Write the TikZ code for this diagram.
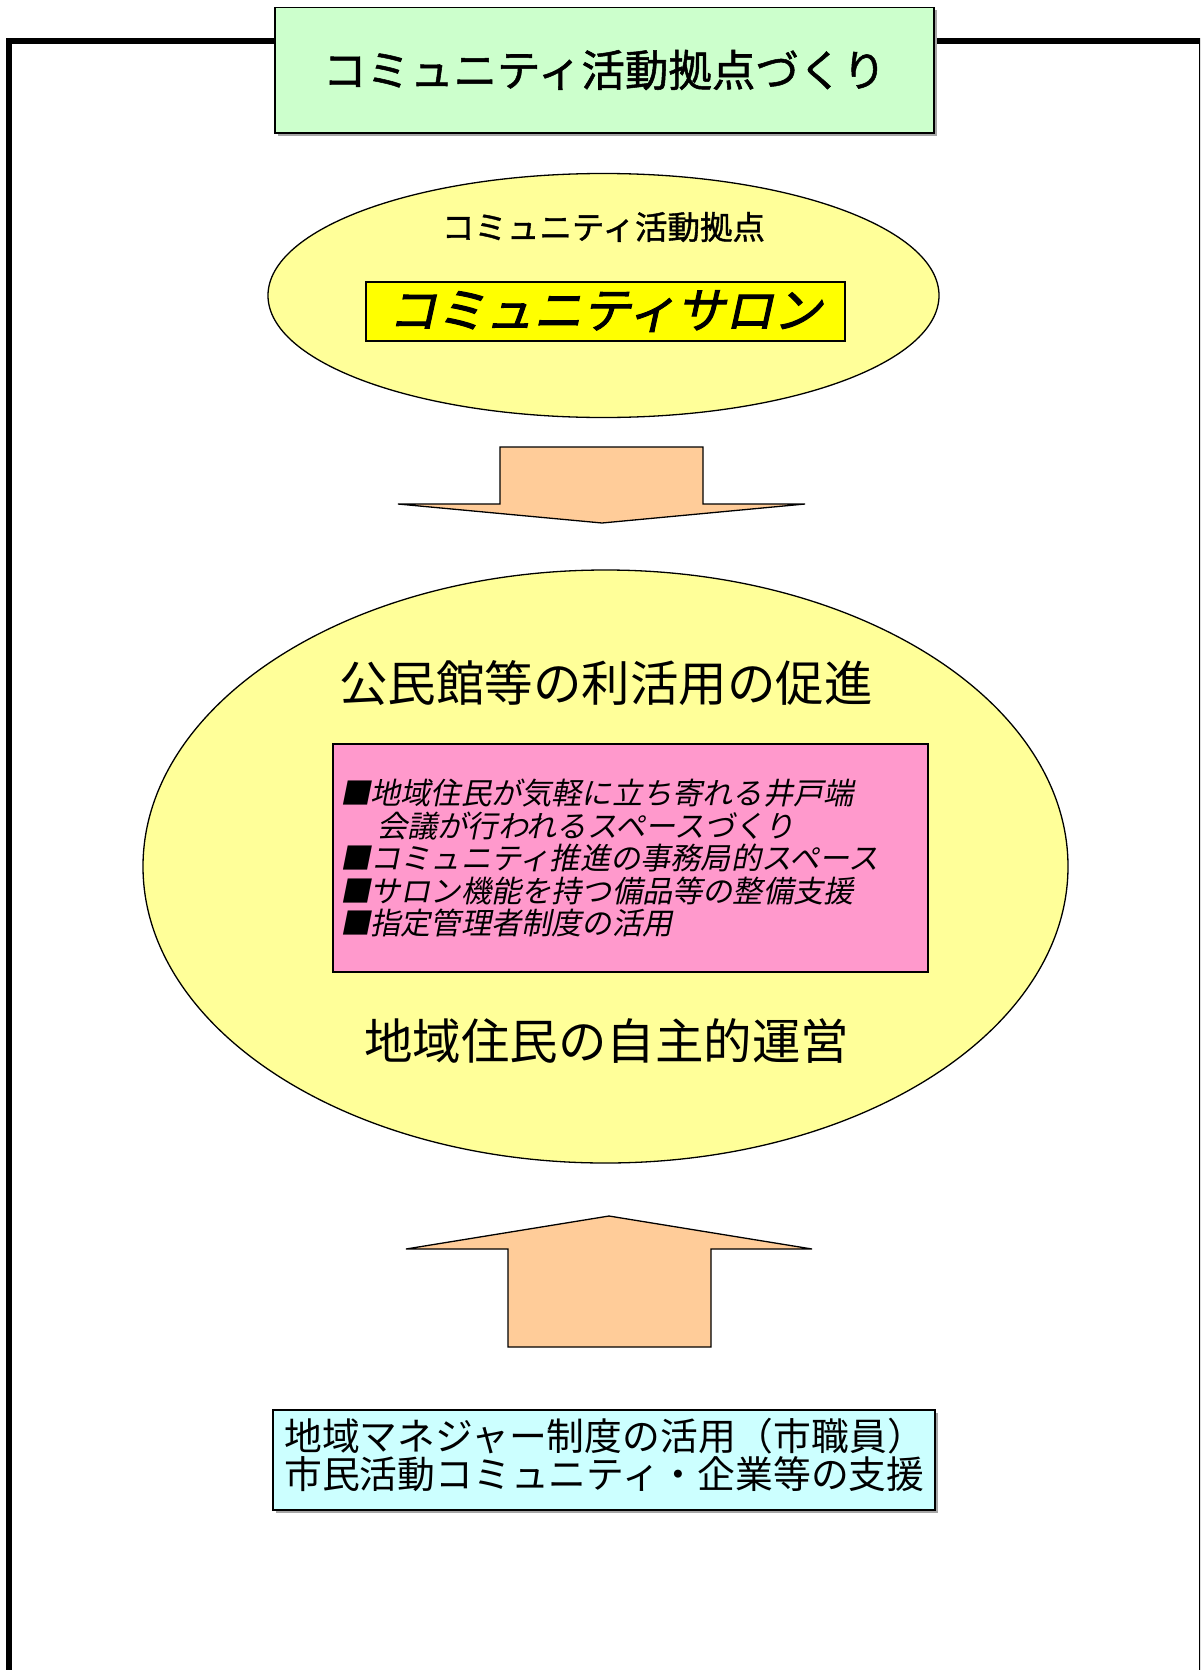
\documentclass[tikz,border=0pt]{standalone}
\usepackage{fontspec}
\usetikzlibrary{shapes.geometric}
\newfontfamily\jp{Noto Sans CJK JP}
\newfontfamily\jpb{Noto Sans CJK JP}[FakeBold=1.2]
\newfontfamily\jpsl{Noto Sans CJK JP}[FakeSlant=0.2]
\newfontfamily\jpslb{Noto Sans CJK JP}[FakeSlant=0.22,FakeBold=2]
\definecolor{boxgreen}{HTML}{CCFFCC}
\definecolor{ellyellow}{HTML}{FFFF99}
\definecolor{salonyellow}{HTML}{FFFF00}
\definecolor{arroworange}{HTML}{FFCC99}
\definecolor{boxpink}{HTML}{FF99CC}
\definecolor{boxcyan}{HTML}{CCFFFF}
\tikzset{
  rbox/.style={draw=black, line width=1.3pt, inner sep=0pt, rectangle},
  ell/.style={draw=black, line width=1.3pt, ellipse, inner sep=0pt, fill=ellyellow},
  bigarrow/.style={draw=black, line width=1.3pt, fill=arroworange, line join=miter},
}
\begin{document}
\begin{tikzpicture}[x=1pt,y=-1pt]
\useasboundingbox (0,0) rectangle (1200,1670);
\clip (0,0) rectangle (1200,1670);
\fill[white] (0,0) rectangle (1200,1670);
% frame
\draw[line width=6pt] (9,1680) -- (9,41) -- (1202,41) -- (1202,1680);

% title box
\fill[gray!70] (277.5,10) rectangle (936.5,135.5);
\node[rbox, fill=boxgreen, minimum width=659pt, minimum height=125.5pt] (title) at (604.5,70.25) {};
\node[font=\jpb\fontsize{43.5}{45}\selectfont] (titletext) at (604.5,70) {コミュニティ活動拠点づくり};

% ellipse 1
\node[ell, minimum width=671pt, minimum height=244pt] (e1) at (603.5,295.5) {};
\node[font=\jpb\fontsize{32.5}{34}\selectfont] (e1text) at (603.5,227) {コミュニティ活動拠点};
\node[rbox, fill=salonyellow, minimum width=479pt, minimum height=59pt] (salon) at (605.5,311.5) {};
\node[font=\jpslb\fontsize{48.5}{50}\selectfont] (salontext) at (605,311) {コミュニティサロン};

% down arrow
\draw[bigarrow] (500,447) -- (703,447) -- (703,504) -- (805,504) -- (602,523) -- (398,504) -- (500,504) -- cycle;

% ellipse 2
\node[ell, minimum width=925pt, minimum height=593pt] (e2) at (605.5,866.5) {};
\node[font=\jp\fontsize{48.5}{50}\selectfont] (e2top) at (606,683) {公民館等の利活用の促進};
\node[rbox, fill=boxpink, minimum width=595pt, minimum height=228pt] (pink) at (630.5,858) {};
\node[anchor=west, align=left, inner sep=0pt, font=\jpsl\fontsize{30.2}{32.5}\selectfont] (pinktext) at (340,858)
  {■地域住民が気軽に立ち寄れる井戸端\\
   \hspace*{37pt}会議が行われるスペースづくり\\
   ■コミュニティ推進の事務局的スペース\\
   ■サロン機能を持つ備品等の整備支援\\
   ■指定管理者制度の活用};
\node[font=\jp\fontsize{48.5}{50}\selectfont] (e2bottom) at (606.5,1041) {地域住民の自主的運営};

% up arrow
\draw[bigarrow] (609,1216) -- (812,1249) -- (711,1249) -- (711,1347) -- (508,1347) -- (508,1249) -- (406,1249) -- cycle;

% cyan box
\fill[gray!70] (275.5,1412.5) rectangle (937.5,1512.5);
\node[rbox, fill=boxcyan, minimum width=662pt, minimum height=100pt] (support) at (604,1460) {};
\node[anchor=west, align=left, inner sep=0pt, font=\jp\fontsize{37.8}{37.5}\selectfont] (supporttext) at (284,1455)
  {地域マネジャー制度の活用（市職員）\\
   市民活動コミュニティ・企業等の支援};
\end{tikzpicture}
\end{document}
